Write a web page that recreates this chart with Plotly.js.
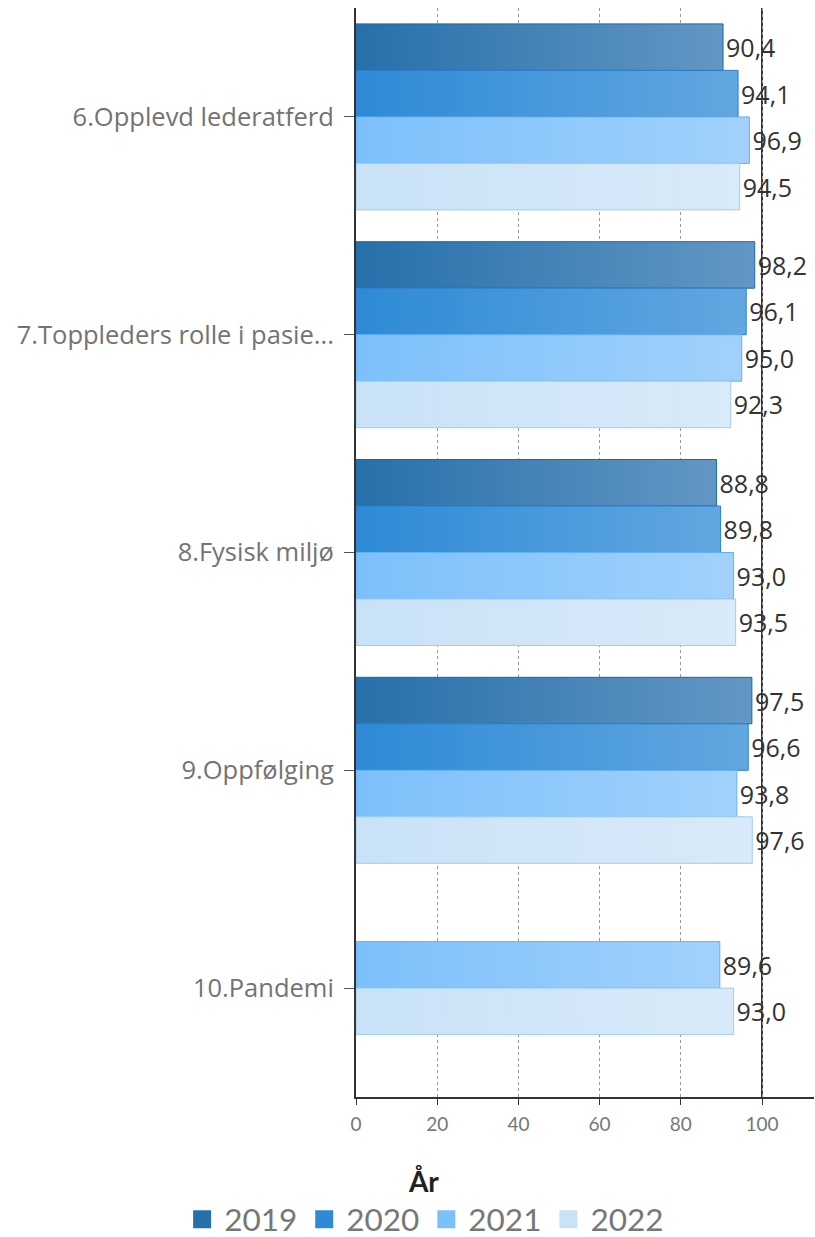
<!DOCTYPE html>
<html>
<head>
<meta charset="utf-8">
<script src="https://cdn.plot.ly/plotly-3.0.1.min.js"></script>
<style>html,body{margin:0;padding:0;background:#fff;}#chart{width:815px;height:1237px;}</style>
</head>
<body>
<div id="chart"></div>
<script>
const categories = ["6.Opplevd lederatferd", "7.Toppleders rolle i pasie...", "8.Fysisk miljø", "9.Oppfølging", "10.Pandemi"];
const years = ["2019", "2020", "2021", "2022"];
// main groups (4 bars each); 10.Pandemi only has 2021 and 2022, centred in its group
const v2019 = [90.4, 98.2, 88.8, 97.5, null];
const v2020 = [94.1, 96.1, 89.8, 96.6, null];
const v2021 = [96.9, 95.0, 93.0, 93.8, null];
const v2022 = [94.5, 92.3, 93.5, 97.6, null];
const pandemiCategory = ["10.Pandemi"];
const pandemi2021 = [89.6];
const pandemi2022 = [93.0];

// gradient colours (left -> right) and bar border colours
const leftColors = ["#2670ab", "#2e8ad6", "#7cc0fb", "#c9e2f7"];
const rightColors = ["#6397c4", "#62a7e0", "#a2d1fb", "#d9eaf9"];
const fillColors = ["#4383b8", "#4898dc", "#8ec8fb", "#cfe5f8"];
const lineColors = ["#1f66a3", "#2a7fcc", "#62b2f5", "#9ccdf3"];

const font = "'Open Sans', 'Noto Sans', sans-serif";
const numFont = "Lato, 'Open Sans', sans-serif";

function barTrace(name, yv, xv, ci, group, showLegend) {
  return {
    type: "bar",
    orientation: "h",
    name: name,
    legendgroup: name,
    showlegend: showLegend,
    offsetgroup: group,
    y: yv,
    x: xv,
    marker: {color: fillColors[ci], line: {color: lineColors[ci], width: 1}},
    texttemplate: "%{x:.1f}",
    textposition: "outside",
    constraintext: "none",
    cliponaxis: false,
    textfont: {family: font, size: 25, color: "#333333"},
    hoverinfo: "x+y+name",
    meta: ci
  };
}

const traces = [
  barTrace(years[0], categories, v2019, 0, "g1", true),
  barTrace(years[1], categories, v2020, 1, "g2", true),
  barTrace(years[2], categories, v2021, 2, "g3", true),
  barTrace(years[3], categories, v2022, 3, "g4", true),
  barTrace(years[2], pandemiCategory, pandemi2021, 2, "g2", false),
  barTrace(years[3], pandemiCategory, pandemi2022, 3, "g3", false)
];

const layout = {
  width: 815, height: 1237,
  margin: {l: 356, r: 1, t: 8, b: 140, autoexpand: false},
  paper_bgcolor: "#ffffff",
  plot_bgcolor: "#ffffff",
  separators: ", ",
  barmode: "group",
  bargap: 0.146,
  bargroupgap: 0,
  font: {family: font},
  xaxis: {
    range: [0, 112.8],
    tickvals: [0, 20, 40, 60, 80, 100],
    showgrid: true, gridcolor: "#9a9a9a", griddash: "dot", gridwidth: 1,
    zeroline: false,
    showline: true, linecolor: "#333333", linewidth: 2,
    ticks: "outside", ticklen: 6, tickcolor: "#333333", tickwidth: 1,
    ticklabelstandoff: 3,
    tickfont: {family: numFont, size: 19, color: "#777777"},
    fixedrange: true
  },
  yaxis: {
    autorange: "reversed",
    showgrid: false, zeroline: false,
    showline: true, linecolor: "#333333", linewidth: 2,
    ticks: "outside", ticklen: 10, tickcolor: "#555555", tickwidth: 1,
    ticklabelstandoff: 5,
    tickfont: {family: font, size: 25.5, color: "#737373"},
    fixedrange: true
  },
  shapes: [{
    type: "line", xref: "x", yref: "paper", x0: 100, x1: 100, y0: 0, y1: 1,
    line: {color: "#333333", width: 2}, layer: "between"
  }],
  showlegend: true,
  legend: {
    orientation: "h",
    xref: "paper", yref: "paper",
    x: -0.384, xanchor: "left",
    y: -0.054, yanchor: "top",
    title: {text: "<b>År</b>", side: "top center", font: {family: numFont, size: 28, color: "#222222"}},
    font: {family: numFont, size: 31.5, color: "#777777"},
    itemwidth: 34,
    tracegroupgap: 0
  }
};

Plotly.newPlot("chart", traces, layout, {displayModeBar: false, staticPlot: true}).then(gd => {
  // horizontal colour gradients on the bars, as in the reference
  const svg = gd.querySelector(".main-svg");
  const ns = "http://www.w3.org/2000/svg";
  let defs = svg.querySelector("defs");
  if (!defs) { defs = document.createElementNS(ns, "defs"); svg.insertBefore(defs, svg.firstChild); }
  leftColors.forEach((c, i) => {
    const g = document.createElementNS(ns, "linearGradient");
    g.setAttribute("id", "barGrad" + i);
    g.setAttribute("x1", "0"); g.setAttribute("x2", "1");
    g.setAttribute("y1", "0"); g.setAttribute("y2", "0");
    const s1 = document.createElementNS(ns, "stop");
    s1.setAttribute("offset", "0"); s1.setAttribute("stop-color", c);
    const s2 = document.createElementNS(ns, "stop");
    s2.setAttribute("offset", "1"); s2.setAttribute("stop-color", rightColors[i]);
    g.appendChild(s1); g.appendChild(s2); defs.appendChild(g);
  });
  gd.querySelectorAll(".barlayer .trace").forEach((tr, ti) => {
    const ci = traces[ti].meta;
    tr.querySelectorAll(".point path").forEach(p => { p.style.fill = "url(#barGrad" + ci + ")"; });
  });
  // legend swatches: larger squares in the left-end colour
  gd.querySelectorAll(".legend .traces").forEach((tr, i) => {
    tr.querySelectorAll(".legendpoints path").forEach(p => {
      p.setAttribute("d", "M9,9H-9V-9H9Z");
      p.style.fill = leftColors[i];
      p.style.stroke = "none";
    });
  });
});
</script>
</body>
</html>
